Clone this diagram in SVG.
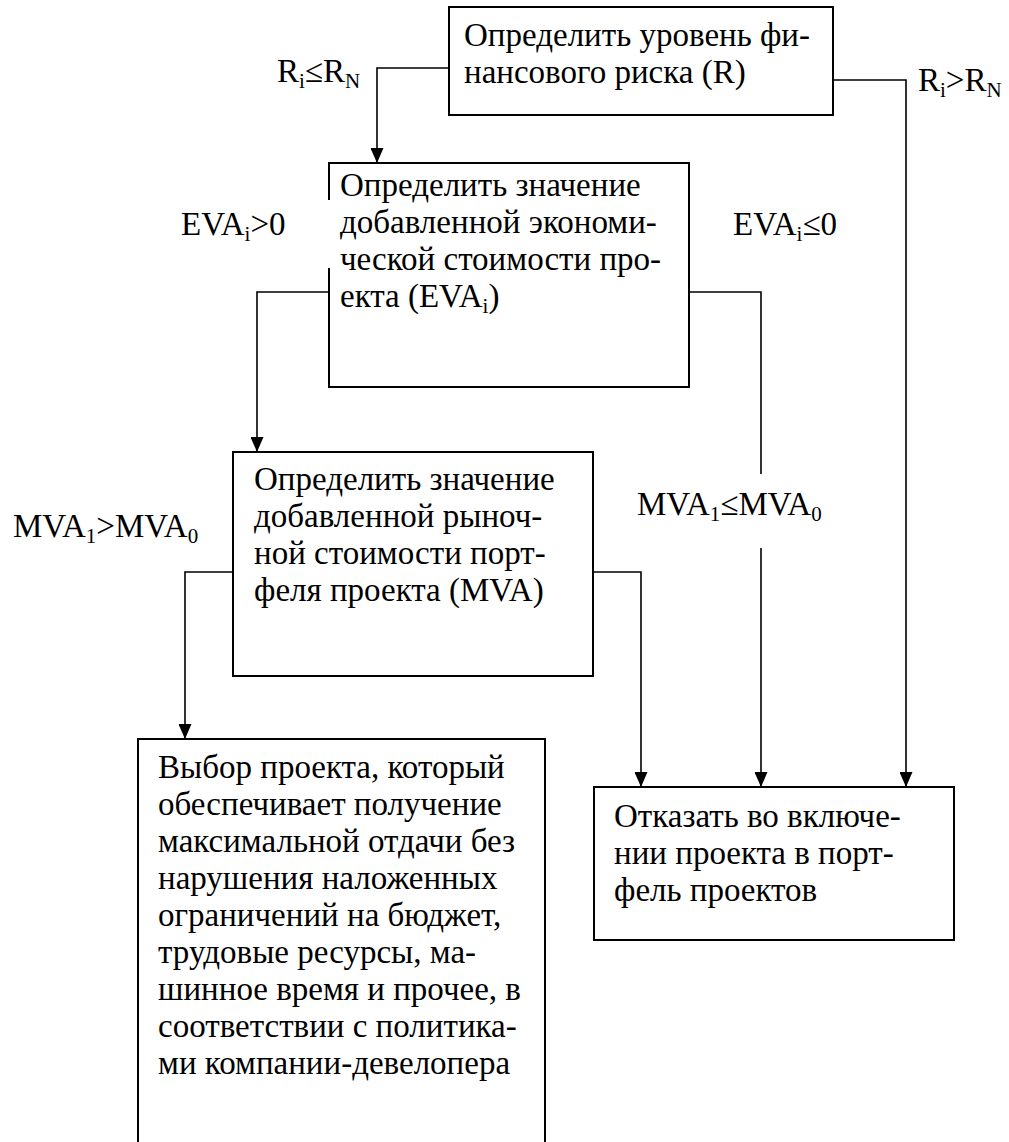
<svg xmlns="http://www.w3.org/2000/svg" width="1009" height="1142" viewBox="0 0 1009 1142">
<defs>
<style>
.box{fill:none;stroke:#000;stroke-width:2}
.con{fill:none;stroke:#000;stroke-width:1.6}
text{font-family:'Liberation Serif','Noto Serif','DejaVu Serif','FreeSerif','Tinos','PT Serif','Times',serif;font-size:33px;fill:#000}
.sub{font-size:21px}
</style>
<marker id="ah" viewBox="0 0 15 13" refX="15" refY="6.5" markerWidth="15" markerHeight="13" markerUnits="userSpaceOnUse" orient="auto">
<path d="M0,0 L15,6.5 L0,13 z" fill="#000"/>
</marker>
</defs>
<rect width="1009" height="1142" fill="#fff"/>

<g id="connectors">
<polyline class="con" points="449,68 377,68 377,163" marker-end="url(#ah)"/>
<polyline class="con" points="833,80 906,80 906,787" marker-end="url(#ah)"/>
<polyline class="con" points="329,292 257,292 257,452" marker-end="url(#ah)"/>
<polyline class="con" points="689,292 761,292 761,474"/>
<polyline class="con" points="761,548 761,787" marker-end="url(#ah)"/>
<polyline class="con" points="233,572 185,572 185,739" marker-end="url(#ah)"/>
<polyline class="con" points="593,572 641,572 641,787" marker-end="url(#ah)"/>
</g>

<g id="labels">
<text x="277" y="82">R<tspan class="sub" dy="6">i</tspan><tspan dy="-6">≤R</tspan><tspan class="sub" dy="6">N</tspan></text>
<text x="918" y="91">R<tspan class="sub" dy="6">i</tspan><tspan dy="-6">&gt;R</tspan><tspan class="sub" dy="6">N</tspan></text>
<text x="181" y="235">EVA<tspan class="sub" dy="6">i</tspan><tspan dy="-6">&gt;0</tspan></text>
<text x="733" y="235">EVA<tspan class="sub" dy="6">i</tspan><tspan dy="-6">≤0</tspan></text>
<text x="637" y="515">MVA<tspan class="sub" dy="6">1</tspan><tspan dy="-6">≤MVA</tspan><tspan class="sub" dy="6">0</tspan></text>
<text x="13" y="537">MVA<tspan class="sub" dy="6">1</tspan><tspan dy="-6">&gt;MVA</tspan><tspan class="sub" dy="6">0</tspan></text>
</g>

<g id="node-risk">
<rect class="box" x="449" y="7" width="384" height="108"/>
<text x="464" y="46">Определить уровень фи-</text>
<text x="464" y="83">нансового риска (R)</text>
</g>

<g id="node-eva">
<path class="box" d="M329,200 V163 H689 V387 H329 V268"/>
<text x="340" y="196">Определить значение</text>
<text x="340" y="233">добавленной экономи-</text>
<text x="340" y="270">ческой стоимости про-</text>
<text x="340" y="307">екта (EVA<tspan class="sub" dy="6">i</tspan><tspan dy="-6">)</tspan></text>
</g>

<g id="node-mva">
<rect class="box" x="233" y="452" width="360" height="224"/>
<text x="254" y="490">Определить значение</text>
<text x="254" y="527">добавленной рыноч-</text>
<text x="254" y="564">ной стоимости порт-</text>
<text x="254" y="601">феля проекта (MVA)</text>
</g>

<g id="node-select">
<path class="box" d="M138,1150 V739 H545 V1150"/>
<text x="158" y="778">Выбор проекта, который</text>
<text x="158" y="815">обеспечивает получение</text>
<text x="158" y="852">максимальной отдачи без</text>
<text x="158" y="889">нарушения наложенных</text>
<text x="158" y="926">ограничений на бюджет,</text>
<text x="158" y="963">трудовые ресурсы, ма-</text>
<text x="158" y="1000">шинное время и прочее, в</text>
<text x="158" y="1037">соответствии с политика-</text>
<text x="158" y="1074">ми компании-девелопера</text>
</g>

<g id="node-reject">
<rect class="box" x="594" y="787" width="360" height="153"/>
<text x="614" y="827">Отказать во включе-</text>
<text x="614" y="864">нии проекта в порт-</text>
<text x="614" y="901">фель проектов</text>
</g>
</svg>
